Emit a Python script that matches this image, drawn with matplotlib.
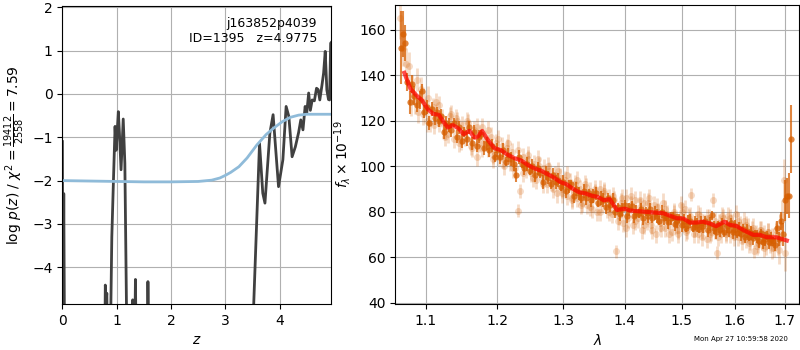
import matplotlib
matplotlib.use('Agg')
import matplotlib.pyplot as plt
from matplotlib.ticker import NullLocator, FixedLocator, FixedFormatter

# redshift probability
pz_z = [0.0, 0.01, 0.025, 0.04, 0.78, 0.79, 0.805, 0.818, 0.83, 0.88, 0.91, 0.94,
        0.97, 0.99, 1.03, 1.05, 1.08, 1.12, 1.15, 1.19, 1.28, 1.295, 1.31, 1.33,
        1.345, 1.36, 1.565, 1.575, 1.59, 3.49, 3.63, 3.69, 3.73, 3.82, 3.88,
        3.98, 4.06, 4.12, 4.17, 4.23, 4.29, 4.35, 4.39, 4.43, 4.47, 4.50, 4.535,
        4.566, 4.60, 4.64, 4.68, 4.71, 4.74, 4.78, 4.81, 4.84, 4.87, 4.90, 4.92,
        4.94, 4.96]
pz_log = [-1.1, -6, -2.3, -6, -6, -4.41, -4.8, -4.6, -6, -6, -3.3, -2.0,
          -0.75, -1.3, -0.41, -0.9, -1.75, -0.58, -1.6, -6, -6, -4.75, -6, -6,
          -4.28, -6, -6, -4.33, -6, -6, -1.14, -2.29, -2.52, -0.91, -0.48,
          -2.14, -1.52, -0.29, -0.52, -1.45, -1.22, -0.89, -0.6, -0.83, -0.29, -0.44, 0.02,
          -0.38, -0.14, -0.16, 0.13, 0.1, -0.14, 0.2, 0.48, 0.98, 0.09, -0.13, -0.14,
          1.17, 1.2]

prior_z = [0.0, 0.5, 1.0, 1.5, 2.0, 2.5, 2.75, 2.9, 3.0, 3.1, 3.25, 3.4, 3.58,
           3.75, 3.89, 4.05, 4.2, 4.35, 4.5, 4.95]
prior_log = [-2.0, -2.01, -2.02, -2.03, -2.03, -2.02, -1.99, -1.94, -1.88, -1.81,
             -1.68, -1.48, -1.18, -0.94, -0.79, -0.64, -0.54, -0.49, -0.47, -0.47]

# individual spectrum points, first beam
wave_a = [1.066, 1.070, 1.074, 1.078, 1.082, 1.086, 1.090, 1.094, 1.098, 1.102,
          1.106, 1.110, 1.114, 1.118, 1.122, 1.126, 1.130, 1.134, 1.138, 1.142,
          1.146, 1.150, 1.154, 1.158, 1.162, 1.166, 1.170, 1.174, 1.178, 1.182,
          1.186, 1.190, 1.194, 1.198, 1.202, 1.206, 1.210, 1.214, 1.218, 1.222,
          1.226, 1.230, 1.234, 1.238, 1.242, 1.246, 1.250, 1.254, 1.258, 1.262,
          1.266, 1.270, 1.274, 1.278, 1.282, 1.286, 1.290, 1.294, 1.298, 1.302,
          1.306, 1.310, 1.314, 1.318, 1.322, 1.326, 1.330, 1.334, 1.338, 1.342,
          1.346, 1.350, 1.354, 1.358, 1.362, 1.366, 1.370, 1.374, 1.378, 1.382,
          1.386, 1.390, 1.394, 1.398, 1.402, 1.406, 1.410, 1.414, 1.418, 1.422,
          1.426, 1.430, 1.434, 1.438, 1.442, 1.446, 1.450, 1.454, 1.458, 1.462,
          1.466, 1.470, 1.474, 1.478, 1.482, 1.486, 1.490, 1.494, 1.498, 1.502,
          1.506, 1.510, 1.514, 1.518, 1.522, 1.526, 1.530, 1.534, 1.538, 1.542,
          1.546, 1.550, 1.554, 1.558, 1.562, 1.566, 1.570, 1.574, 1.578, 1.582,
          1.586, 1.590, 1.594, 1.598, 1.602, 1.606, 1.610, 1.614, 1.618, 1.622,
          1.626, 1.630, 1.634, 1.638, 1.642, 1.646, 1.650, 1.654, 1.658, 1.662,
          1.666, 1.670, 1.674, 1.678, 1.682, 1.686, 1.690, 1.694, 1.698, 1.700]
flux_a = [165, 152, 145, 144, 135, 128, 124, 134, 128, 120,
          119, 126, 128, 119, 121, 116, 114, 123, 112, 120,
          110, 118, 113, 119, 109, 116, 104, 110, 117, 112,
          108, 113, 105, 110, 104, 109, 100, 108, 102, 106,
          99, 80.5, 89, 104, 99, 103, 97, 101, 94, 100,
          95, 99, 92, 98, 93, 96, 88, 95, 90, 94,
          87, 93, 85, 92, 86, 90, 84, 92, 83, 89,
          81, 88, 80, 90, 84, 88, 81, 86, 79, 85,
          62.5, 78, 84, 75, 86, 77, 83, 74, 85, 77,
          82, 72, 84, 76, 86, 74, 83, 70, 80, 75,
          84, 73, 79, 76, 71, 80, 74, 70, 83, 75,
          81, 72, 77, 87.5, 73, 76, 70, 78, 72, 75,
          68, 77, 71, 85, 72, 62, 75, 70, 77, 71,
          78, 70, 75, 72, 79, 69, 74, 70, 76, 68,
          73, 67, 72, 62.5, 70, 66, 72, 67, 70, 65,
          71, 66, 69, 64, 72, 66, 74, 78, 94, 62]
err_a = [9, 8, 7, 6, 5, 5, 5, 5, 5, 5,
         4, 4, 4, 4, 4, 4, 4, 4, 4, 4,
         4, 4, 4, 4, 4, 4, 4, 4, 4, 4,
         4, 4, 4, 4, 4, 4, 4, 4, 4, 4,
         4, 3, 3, 4, 4, 4, 4, 4, 4, 4,
         4, 4, 4, 4, 4, 4, 4, 4, 4, 4,
         4, 4, 4, 4, 4, 4, 4, 4, 4, 4,
         4, 4, 4, 4, 4, 4, 4, 4, 4, 4,
         3, 4, 4, 4, 4, 4, 4, 4, 4, 4,
         4, 4, 4, 4, 4, 4, 4, 4, 4, 4,
         4, 4, 4, 4, 4, 4, 4, 4, 4, 4,
         4, 4, 4, 3, 4, 4, 4, 4, 4, 4,
         4, 4, 4, 3, 4, 3, 4, 4, 4, 4,
         4, 4, 4, 4, 4, 4, 4, 4, 4, 4,
         4, 4, 4, 3, 4, 4, 4, 4, 4, 4,
         4, 4, 4, 4, 4, 5, 5, 7, 9, 8]

# individual spectrum points, second beam
wave_c = [1.081, 1.088, 1.096, 1.103, 1.111, 1.118, 1.126, 1.133, 1.141, 1.148,
          1.156, 1.163, 1.171, 1.178, 1.186, 1.193, 1.201, 1.208, 1.216, 1.223,
          1.231, 1.238, 1.246, 1.253, 1.261, 1.268, 1.276, 1.283, 1.291, 1.298,
          1.306, 1.313, 1.321, 1.328, 1.336, 1.343, 1.351, 1.358, 1.366, 1.373,
          1.381, 1.388, 1.396, 1.403, 1.411, 1.418, 1.426, 1.433, 1.441, 1.448,
          1.456, 1.463, 1.471, 1.478, 1.486, 1.493, 1.501, 1.508, 1.516, 1.523,
          1.531, 1.538, 1.546, 1.553, 1.561, 1.568, 1.576, 1.583, 1.591, 1.598,
          1.606, 1.613, 1.621, 1.628, 1.636, 1.643, 1.651, 1.658, 1.666, 1.673,
          1.681, 1.688]
flux_c = [128, 138, 123, 130, 118, 127, 113, 122, 121, 111,
          120, 108, 117, 108, 116, 103, 112, 103, 110, 99,
          107, 97, 105, 95, 103, 92, 100, 90, 98, 88,
          96, 86, 94, 83, 91, 82, 90, 80, 89, 80,
          87, 76, 86, 73, 87, 76, 85, 74, 84, 72,
          82, 73, 81, 70, 79, 72, 80, 71, 78, 70,
          79, 69, 77, 70, 76, 69, 78, 70, 77, 69,
          76, 67, 74, 66, 73, 65, 72, 64, 71, 64,
          70, 63]
err_c = [6, 5, 5, 5, 4, 4, 4, 4, 4, 4,
         4, 4, 4, 4, 4, 4, 4, 4, 4, 4,
         4, 4, 4, 4, 4, 4, 4, 4, 4, 4,
         4, 4, 4, 4, 4, 4, 4, 4, 4, 4,
         4, 4, 4, 4, 4, 4, 4, 4, 4, 4,
         4, 4, 4, 4, 4, 4, 4, 4, 4, 4,
         4, 4, 4, 4, 4, 4, 4, 4, 4, 4,
         4, 4, 4, 4, 4, 4, 4, 4, 4, 5,
         5, 6]

# combined spectrum
wave_b = [1.068, 1.070, 1.073, 1.076, 1.079, 1.082, 1.085, 1.088, 1.092, 1.095,
          1.098, 1.102, 1.105, 1.108, 1.112, 1.115, 1.118, 1.121, 1.125, 1.128,
          1.132, 1.135, 1.138, 1.142, 1.146, 1.149, 1.152, 1.156, 1.160, 1.163,
          1.167, 1.170, 1.174, 1.177, 1.181, 1.185, 1.188, 1.192, 1.196, 1.200,
          1.204, 1.208, 1.212, 1.216, 1.220, 1.224, 1.228, 1.232, 1.236, 1.240,
          1.244, 1.248, 1.252, 1.256, 1.260, 1.264, 1.268, 1.272, 1.276, 1.280,
          1.284, 1.288, 1.292, 1.296, 1.300, 1.304, 1.308, 1.312, 1.316, 1.320,
          1.324, 1.328, 1.332, 1.336, 1.340, 1.344, 1.348, 1.352, 1.356, 1.360,
          1.364, 1.368, 1.372, 1.376, 1.380, 1.384, 1.388, 1.392, 1.396, 1.400,
          1.404, 1.408, 1.412, 1.416, 1.420, 1.424, 1.428, 1.432, 1.436, 1.440,
          1.444, 1.448, 1.452, 1.456, 1.460, 1.464, 1.468, 1.472, 1.476, 1.480,
          1.484, 1.488, 1.492, 1.496, 1.500, 1.504, 1.508, 1.512, 1.516, 1.520,
          1.524, 1.528, 1.532, 1.536, 1.540, 1.544, 1.548, 1.552, 1.556, 1.560,
          1.564, 1.568, 1.572, 1.576, 1.580, 1.584, 1.588, 1.592, 1.596, 1.600,
          1.604, 1.608, 1.612, 1.616, 1.620, 1.624, 1.628, 1.632, 1.636, 1.640,
          1.644, 1.648, 1.652, 1.656, 1.660, 1.664, 1.668, 1.672, 1.676, 1.680,
          1.684, 1.688, 1.692, 1.696, 1.700, 1.704, 1.709, 1.713]
flux_b = [152, 158, 154, 137, 128, 136, 131, 127, 129, 133,
          124, 126, 119, 125, 121, 124, 120, 122, 115, 119,
          118, 116, 119, 113, 117, 111, 115, 112, 117, 110,
          115, 109, 113, 114, 108, 110, 107, 109, 104, 107,
          104, 107, 102, 105, 103, 101, 96, 104, 101, 99,
          101, 98, 100, 96, 99, 97, 93, 97, 95, 92,
          96, 93, 94, 91, 93, 89, 91, 92, 87, 90,
          88, 86, 89, 86, 88, 85, 87, 88, 84, 86,
          85, 82, 86, 83, 85, 80, 82, 79, 81, 83,
          78, 81, 82.5, 78, 80, 79, 81, 77, 80, 78,
          81, 77, 79.5, 78, 76, 80, 77, 78, 75.5, 77,
          78, 74.5, 76, 77, 74, 76, 73, 75.5, 76, 73,
          75, 74, 72.5, 75, 73.5, 76, 72, 74.5, 78.5, 73,
          71, 74, 72, 74, 71, 73.5, 72, 75, 71, 73.5,
          70.5, 72.5, 70, 72.5, 69, 71.5, 69, 70.5, 68.5, 70,
          69, 67, 70.5, 66.5, 68, 69.5, 66.5, 68, 67, 65.5,
          73, 68, 76, 70, 85, 87, 87, 112]
err_b = [16, 10, 8, 4, 5, 4, 4, 3, 4, 3,
         3, 3, 3, 3, 3, 2, 3, 3, 3, 3,
         3, 3, 2, 3, 3, 3, 2, 3, 3, 3,
         3, 3, 3, 2, 3, 3, 3, 3, 2, 3,
         3, 3, 2, 3, 3, 3, 3, 3, 2, 3,
         3, 2, 3, 3, 3, 2, 3, 3, 3, 2,
         3, 3, 3, 2, 3, 3, 3, 2, 3, 3,
         3, 2, 3, 3, 2, 3, 3, 3, 2, 3,
         3, 3, 2, 3, 3, 3, 2, 3, 3, 2,
         3, 3, 2, 3, 3, 2, 3, 3, 2, 3,
         3, 2, 3, 3, 2, 3, 3, 2, 3, 3,
         2, 3, 3, 2, 3, 3, 2, 3, 3, 2,
         3, 3, 2, 3, 3, 2, 3, 3, 2, 3,
         3, 2, 3, 3, 2, 3, 3, 2, 3, 3,
         2, 3, 3, 2, 3, 3, 2, 3, 3, 2,
         3, 3, 2, 3, 3, 2, 3, 3, 2, 3,
         3, 3, 4, 5, 9, 8, 10, 15]

# best-fit model
model_wave = [1.072, 1.080, 1.088, 1.095, 1.103, 1.110, 1.118, 1.125, 1.130, 1.137,
              1.145, 1.152, 1.160, 1.167, 1.172, 1.178, 1.185, 1.195, 1.205, 1.215,
              1.225, 1.235, 1.245, 1.255, 1.265, 1.275, 1.285, 1.295, 1.305, 1.315,
              1.325, 1.335, 1.345, 1.355, 1.365, 1.375, 1.387, 1.400, 1.409, 1.432,
              1.467, 1.491, 1.503, 1.515, 1.527, 1.539, 1.552, 1.564, 1.580, 1.590,
              1.603, 1.616, 1.636, 1.649, 1.662, 1.683, 1.704]
model_flux = [141, 134, 131, 129, 125, 123, 122.5, 119, 117, 118,
              116.5, 114, 115.5, 112.5, 113, 115.5, 112, 108, 107, 105,
              103.5, 102.5, 100.5, 99, 98, 96.5, 95, 93, 92, 90,
              88.5, 88, 87, 86.5, 85, 85.5, 80.7, 81.3, 80.5, 80,
              79.3, 77.1, 77, 75.2, 75.2, 75.6, 74.8, 73.6, 75.6, 74.2,
              73.7, 72, 69.8, 69.8, 68.8, 68.7, 67.3]

wave_ticks = [1.1, 1.2, 1.3, 1.4, 1.5, 1.6, 1.7]
orange = (0.84, 0.37, 0.0)

fig = plt.figure(figsize=(8, 3.5), dpi=100)
ax1 = fig.add_axes([0.078, 0.131, 0.336, 0.851])
ax2 = fig.add_axes([0.494, 0.132, 0.505, 0.853])

ax1.plot(pz_z, pz_log, color='0.25', lw=2)
ax1.plot(prior_z, prior_log, color='#8fbbd9', lw=2)
ax1.set_xlim(0, 4.95)
ax1.set_ylim(-4.85, 2.02)
ax1.set_yticks([-4, -3, -2, -1, 0, 1, 2])
ax1.grid(True)
ax1.set_xlabel('$z$')
ax1.set_ylabel(r'log $p(z)$ / $\chi^2=\frac{19412}{2558}=7.59$')
ax1.text(0.948, 0.965, 'j163852p4039\nID=1395   z=4.9775', transform=ax1.transAxes,
         ha='right', va='top', fontsize=9)

for w, f, e in [(wave_a, flux_a, err_a), (wave_c, flux_c, err_c)]:
    ax2.errorbar(w, f, e, marker='o', ms=5, linestyle='none',
                 color=orange, alpha=0.22, elinewidth=2, mec='none')
ax2.errorbar(wave_b, flux_b, err_b, marker='o', ms=4.5, linestyle='none',
             color=orange, alpha=0.75, elinewidth=1.5, mec='none')
ax2.plot(model_wave, model_flux, color='red', alpha=0.7, lw=3, zorder=5)
ax2.set_xscale('log')
ax2.xaxis.set_major_locator(FixedLocator(wave_ticks))
ax2.xaxis.set_major_formatter(FixedFormatter([f'{w:.1f}' for w in wave_ticks]))
ax2.xaxis.set_minor_locator(NullLocator())
ax2.set_xlim(1.0602, 1.7297)
ax2.set_ylim(39.5, 170.7)
ax2.set_yticks([40, 60, 80, 100, 120, 140, 160])
ax2.grid(True)
ax2.set_xlabel(r'$\lambda$')
ax2.set_ylabel(r'$f_\lambda \times 10^{-19}$')

fig.text(0.985, 0.031, 'Mon Apr 27 10:59:58 2020', ha='right', va='center', fontsize=5)

fig.savefig('out.png', dpi=100)
